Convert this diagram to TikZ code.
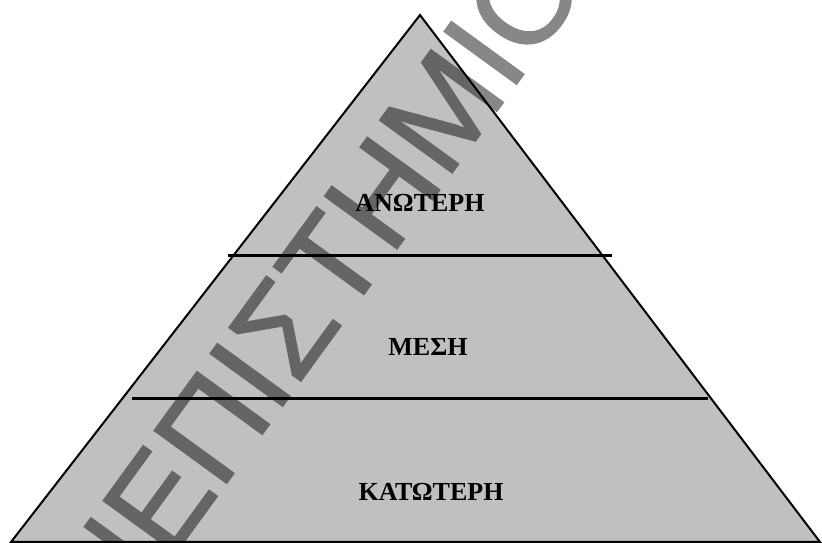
\documentclass[tikz,border=0pt]{standalone}
\usepackage{fontspec}
\setmainfont{Liberation Serif}
\newfontfamily\markfont[FakeBold=1.2]{Liberation Sans}
\definecolor{pyramidgray}{HTML}{C0C0C0}
\tikzstyle{pyramidedge}=[-, line width=2pt]
\tikzstyle{layerline}=[-, line width=3pt]
\tikzstyle{layertext}=[inner sep=0pt, font=\bfseries\fontsize{26}{26}\selectfont]
\tikzstyle{watermarktext}=[inner sep=0pt, rotate=54, font=\markfont\fontsize{130}{130}\selectfont]

\begin{document}
\begin{tikzpicture}[x=1pt, y=1pt]
    \useasboundingbox (0, 0) rectangle (822, 543);
    \coordinate (apex) at (420, 528);
    \coordinate (base left) at (11, 1);
    \coordinate (base right) at (820, 1);
    \draw[pyramidedge, fill=pyramidgray] (apex) -- (base left) -- (base right) -- cycle;

    \coordinate (upper left) at (228, 287);
    \coordinate (upper right) at (612, 287);
    \coordinate (lower left) at (132, 144);
    \coordinate (lower right) at (708, 144);
    \draw[layerline] (upper left) -- (upper right);
    \draw[layerline] (lower left) -- (lower right);

    \node (top level) at (420, 340) [layertext] {ΑΝΩΤΕΡΗ};
    \node (middle level) at (428, 196) [layertext] {ΜΕΣΗ};
    \node (bottom level) at (431, 51.5) [layertext] {ΚΑΤΩΤΕΡΗ};

    \begin{scope}[transparency group, opacity=0.47]
        \clip (0, 0) rectangle (822, 543);
        \node (watermark) at (263, 186) [watermarktext] {ΠΑΝΕΠΙΣΤΗΜΙΟ};
    \end{scope}
\end{tikzpicture}
\end{document}
